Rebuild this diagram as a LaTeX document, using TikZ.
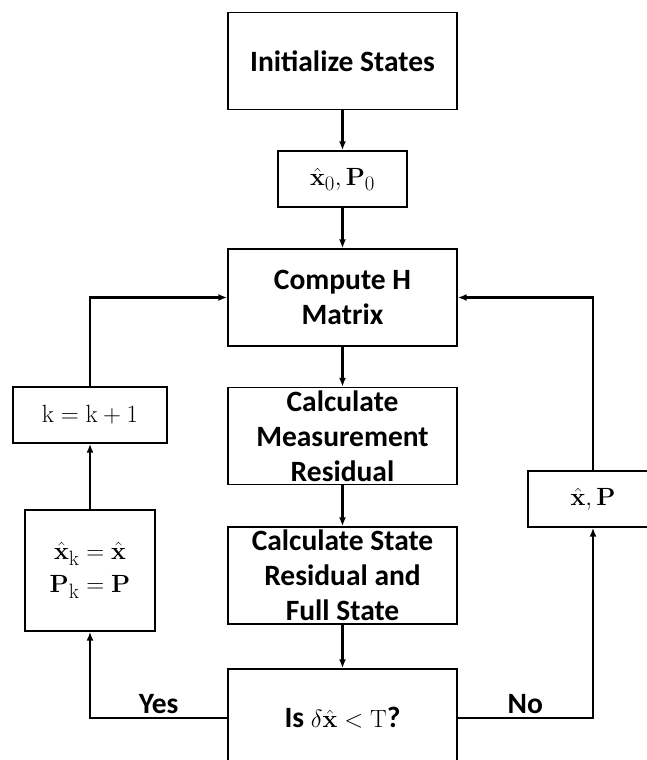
\documentclass[tikz,border=0pt]{standalone}
\usepackage[no-math]{fontspec}
\usepackage{amsmath}
\usepackage{tikz}
\usetikzlibrary{arrows.meta, positioning}
\newfontfamily\flowfont{Carlito}

\begin{document}
\begin{tikzpicture}[
			x=1pt, y=-1pt,
			every node/.style={font=\flowfont\bfseries\fontsize{29.5}{35}\selectfont},
			box/.style={
				rectangle, draw, line width=1.4pt,
				align=center, inner sep=0pt
			},
			bigbox/.style={box, minimum width=229pt, minimum height=97pt},
			smallbox/.style={box, minimum height=56pt},
			arrow/.style={
				-{Latex[length=9pt,width=7pt]},
				line width=2.2pt
			}
			]
			\useasboundingbox (0,0) rectangle (646,760);
			
			\node[bigbox] (init) at (342.5,61) {Initialize States};
			\node[smallbox, minimum width=129pt] (x0) at (342.5,179) {$\hat{\mathbf{x}}_0, \mathbf{P}_0$};
			\node[bigbox] (hmat) at (342.5,297.5) {Compute H\\Matrix};
			\node[bigbox] (meas) at (342.5,436) {Calculate\\Measurement\\Residual};
			\node[bigbox] (state) at (342.5,575.5) {Calculate State\\Residual and\\Full State};
			\node[bigbox, minimum height=98pt] (check) at (342.5,718) {Is $\delta\hat{\mathbf{x}} < \mathrm{T}$?};
			
			\node[smallbox, minimum width=154pt] (kinc) at (90,415) {$\mathrm{k} = \mathrm{k} + 1$};
			\node[box, minimum width=130pt, minimum height=121pt] (xk) at (90,570.5) {$\hat{\mathbf{x}}_\mathrm{k} = \hat{\mathbf{x}}$\\[-2pt]$\mathbf{P}_\mathrm{k} = \mathbf{P}$};
			\node[smallbox, minimum width=130pt] (xp) at (593,499) {$\hat{\mathbf{x}}, \mathbf{P}$};
			
			\draw[arrow] (init) -- (x0);
			\draw[arrow] (x0) -- (hmat);
			\draw[arrow] (hmat) -- (meas);
			\draw[arrow] (meas) -- (state);
			\draw[arrow] (state) -- (check);
			
			\draw[arrow] (check.west) -| (xk.south) node[pos=0.25, above] {Yes};
			\draw[arrow] (xk) -- (kinc);
			\draw[arrow] (kinc.north) |- (hmat.west);
			
			\draw[arrow] (check.east) -| (xp.south) node[pos=0.25, above] {No};
			\draw[arrow] (xp.north) |- (hmat.east);
			
		\end{tikzpicture}
\end{document}
